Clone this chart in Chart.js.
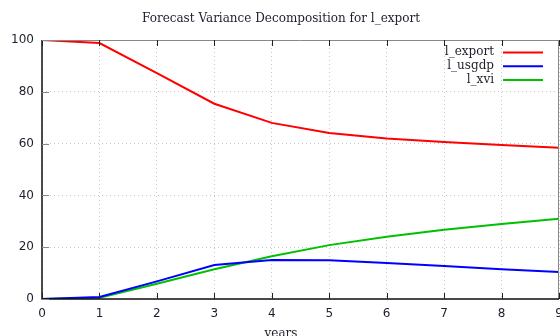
<!DOCTYPE html>
<html>
<head>
<meta charset="utf-8">
<script src="https://cdn.jsdelivr.net/npm/chart.js@4/dist/chart.umd.min.js"></script>
<style>
  html, body { margin: 0; padding: 0; background: #fff; overflow: hidden; }
  #wrap { width: 560px; height: 336px; overflow: hidden; position: relative; }
  canvas { position: absolute; left: 0; top: 0; }
</style>
</head>
<body>
<div id="wrap"><canvas id="c" width="600" height="350"></canvas></div>
<script>
// 데이터
const years = [0, 1, 2, 3, 4, 5, 6, 7, 8, 9];
const lExport = [100, 98.8, 87.2, 75.4, 68.0, 64.1, 62.0, 60.6, 59.5, 58.4];
const lUsgdp  = [0, 0.8, 6.8, 13.1, 15.1, 15.0, 13.9, 12.7, 11.5, 10.4];
const lXvi    = [0, 0.5, 5.9, 11.5, 16.5, 20.8, 24.0, 26.7, 29.0, 31.0];
const yTicks  = [0, 20, 40, 60, 80, 100];

const TITLE = "Forecast Variance Decomposition for l_export";
const SERIF = "'DejaVu Serif', 'Liberation Serif', serif";
const SANS = "'DejaVu Sans', sans-serif";
const INK = "#1e1e2e";

const pts = (arr) => years.map((x, i) => ({ x, y: arr[i] }));

// gnuplot 스타일 테두리/안쪽 눈금/제목/범례
const gnuFrame = {
  id: "gnuFrame",
  afterDraw(chart) {
    const { ctx, chartArea: a, scales } = chart;
    const xs = scales.x, ys = scales.y;
    ctx.save();

    // 테두리
    ctx.lineWidth = 1;
    ctx.strokeStyle = "#888";
    ctx.beginPath();
    ctx.moveTo(a.left, a.top + 0.5); ctx.lineTo(a.right, a.top + 0.5);
    ctx.moveTo(a.right - 0.5, a.top); ctx.lineTo(a.right - 0.5, a.bottom);
    ctx.stroke();
    ctx.lineWidth = 1.5;
    ctx.strokeStyle = "#111";
    ctx.beginPath();
    ctx.moveTo(a.left, a.top); ctx.lineTo(a.left, a.bottom);
    ctx.lineTo(a.right, a.bottom);
    ctx.stroke();

    // 안쪽 눈금
    ctx.lineWidth = 1;
    ctx.strokeStyle = "#222";
    ctx.beginPath();
    for (const v of years) {
      const px = Math.round(xs.getPixelForValue(v)) + 0.5;
      ctx.moveTo(px, a.bottom); ctx.lineTo(px, a.bottom - 6);
      ctx.moveTo(px, a.top); ctx.lineTo(px, a.top + 6);
    }
    ctx.stroke();
    ctx.strokeStyle = "#888";
    ctx.beginPath();
    for (const v of yTicks) {
      const py = Math.round(ys.getPixelForValue(v)) + 0.5;
      ctx.moveTo(a.left, py); ctx.lineTo(a.left + 7, py);
    }
    ctx.stroke();

    // 제목
    ctx.fillStyle = INK;
    ctx.font = "12px " + SERIF;
    ctx.textAlign = "center";
    ctx.textBaseline = "middle";
    ctx.fillText(TITLE, 281, 19);

    // x축 제목 (아래가 잘려 보임)
    ctx.font = "12px " + SERIF;
    ctx.fillText("years", 281, 334);

    // 범례
    ctx.font = "12px " + SERIF;
    ctx.textAlign = "right";
    chart.data.datasets.forEach((ds, i) => {
      const y = 52 + i * 13.8;
      ctx.fillStyle = INK;
      ctx.fillText(ds.label, 494, y);
      ctx.strokeStyle = ds.borderColor;
      ctx.lineWidth = 2;
      ctx.beginPath();
      ctx.moveTo(503, y + 0.5); ctx.lineTo(543, y + 0.5);
      ctx.stroke();
    });
    ctx.restore();
  }
};

new Chart(document.getElementById("c"), {
  type: "line",
  data: {
    datasets: [
      { label: "l_export", data: pts(lExport), borderColor: "#ff0000" },
      { label: "l_usgdp",  data: pts(lUsgdp),  borderColor: "#0000ff" },
      { label: "l_xvi",    data: pts(lXvi),    borderColor: "#00c000" }
    ]
  },
  options: {
    responsive: false,
    animation: false,
    devicePixelRatio: 1,
    layout: { padding: { top: 40, right: 41, left: 0, bottom: 0 } },
    elements: {
      line: { borderWidth: 2, tension: 0, fill: false },
      point: { radius: 0 }
    },
    plugins: { legend: { display: false }, title: { display: false }, tooltip: { enabled: false } },
    scales: {
      x: {
        type: "linear", min: 0, max: 9,
        afterFit: (s) => { s.height = 51; },
        afterBuildTicks: (s) => { s.ticks = years.map(v => ({ value: v })); },
        ticks: { color: INK, font: { family: SANS, size: 12 }, padding: 8, maxRotation: 0 },
        grid: { color: "#c8c8c8", drawTicks: false, lineWidth: 1 },
        border: { display: false, dash: [1, 3] }
      },
      y: {
        min: 0, max: 100,
        afterFit: (s) => { s.width = 42; },
        afterBuildTicks: (s) => { s.ticks = yTicks.map(v => ({ value: v })); },
        ticks: { color: INK, font: { family: SANS, size: 12 }, padding: 8 },
        grid: { color: "#c8c8c8", drawTicks: false, lineWidth: 1 },
        border: { display: false, dash: [1, 3] }
      }
    }
  },
  plugins: [gnuFrame]
});
</script>
</body>
</html>
